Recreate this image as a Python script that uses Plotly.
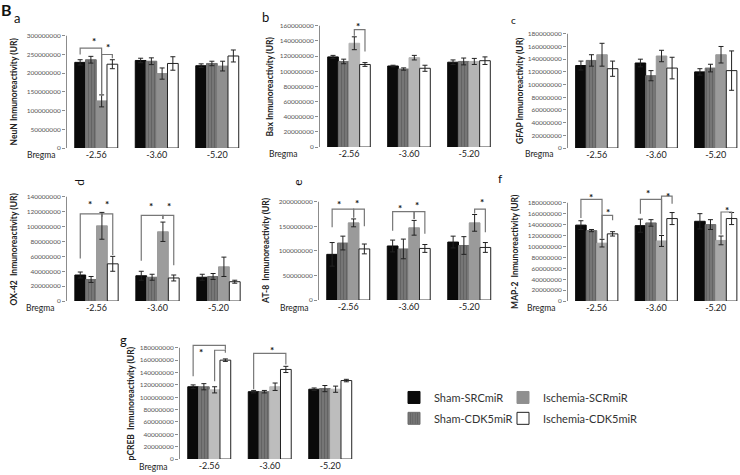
import plotly.graph_objects as go

W, H = 740, 475
UNIT = 1e6  # values below are in millions of UR

categories = ["-2.56", "-3.60", "-5.20"]
series_names = ["Sham-SRCmiR", "Sham-CDK5miR", "Ischemia-SCRmiR", "Ischemia-CDK5miR"]

# ---- a: NeuN ----
neun_mean = [[229, 234, 220], [236, 232, 226], [126, 199, 219], [224, 226, 246]]
neun_err = [[7, 6, 5], [9, 9, 6], [16, 15, 13], [12, 18, 16]]
neun_brackets = [(0, 0, 2, 267, 250, 140), (0, 2, 3, 250, 140, 240)]
neun_stars = [(0, 1.3, 287), (0, 2.6, 269)]

# ---- b: Bax ----
bax_mean = [[119, 107, 112], [113, 103, 113], [137, 118, 113], [109, 104, 114]]
bax_err = [[2, 1, 3], [3, 1.5, 4.5], [8.5, 3, 4], [2.5, 4, 5]]
bax_brackets = [(0, 2, 3, 155, 147, 126)]
bax_stars = [(0, 2.3, 160)]

# ---- c: GFAP ----
gfap_mean = [[130, 134, 120], [138, 114, 126], [147, 145, 147], [125, 126, 122]]
gfap_err = [[7, 6, 5], [9, 8, 6], [18, 9, 13], [12, 17, 31]]
gfap_brackets = []
gfap_stars = []

# ---- d: OX-42 ----
ox42_mean = [[35, 34, 32], [29, 32, 33], [101, 93, 46], [50, 31, 26]]
ox42_err = [[4, 6, 4], [4, 4, 4], [18, 13, 13], [10, 4, 2]]
ox42_brackets = [(0, 0, 2, 117, 57, 113), (0, 2, 3, 117, 113, 62),
                 (1, 0, 2, 115, 54, 110), (1, 2, 3, 115, 110, 48)]
ox42_stars = [(0, 0.9, 130), (0, 2.5, 130), (1, 0.9, 127), (1, 2.6, 127)]

# ---- e: AT-8 ----
at8_mean = [[93, 110, 118], [116, 104, 111], [157, 147, 157], [104, 105, 107]]
at8_err = [[24, 12, 12], [14, 20, 18], [8, 15, 17], [10, 8, 10]]
at8_brackets = [(0, 0, 2, 185, 148, 168), (0, 2, 3, 185, 168, 150),
                (1, 0, 2, 180, 141, 165), (1, 2, 3, 180, 165, 135),
                (2, 2, 3, 185, 176, 138)]
at8_stars = [(0, 0.6, 196), (0, 2.3, 197), (1, 0.7, 187), (1, 2.3, 194), (2, 2.7, 199)]

# ---- f: MAP-2 ----
map2_mean = [[139, 138, 146], [129, 143, 140], [106, 110, 111], [123, 151, 151]]
map2_err = [[8, 12, 14], [2, 6, 9], [7, 10, 8], [4, 11, 11]]
map2_brackets = [(0, 0, 2, 186, 152, 114), (0, 2, 3, 157, 114, 148),
                 (1, 0, 2, 186, 160, 122), (1, 2, 3, 192, 122, 178),
                 (2, 2, 3, 163, 122, 153)]
map2_stars = [(0, 1.0, 191), (0, 2.6, 163), (1, 0.7, 198), (1, 2.6, 193), (2, 2.6, 167)]

# ---- g: pCREB ----
pcreb_mean = [[117, 109, 113], [117, 109, 114], [112, 117, 113], [160, 145, 127]]
pcreb_err = [[3, 2, 2], [5, 2, 5], [5, 6, 5], [2, 5, 2]]
pcreb_brackets = [(0, 0, 3, 184, 134, 177), (0, 2, 3, 176, 126, 172), (1, 0, 3, 171, 113, 153)]
pcreb_stars = [(0, 0.7, 174), (1, 1.7, 176)]

panels = [
    ("a", "NeuN Inmunoreactivity (UR)", neun_mean, neun_err, 300, 50, neun_brackets, neun_stars),
    ("b", "Bax Inmunoreactivity (UR)", bax_mean, bax_err, 160, 20, bax_brackets, bax_stars),
    ("c", "GFAP Inmunoreactivity (UR)", gfap_mean, gfap_err, 180, 20, gfap_brackets, gfap_stars),
    ("d", "OX-42\u00a0 Inmunoreactivity (UR)", ox42_mean, ox42_err, 140, 20, ox42_brackets, ox42_stars),
    ("e", "AT-8\u00a0 Inmunoreactivity (UR)", at8_mean, at8_err, 200, 50, at8_brackets, at8_stars),
    ("f", "MAP-2\u00a0 Inmunoreactivity (UR)", map2_mean, map2_err, 180, 20, map2_brackets, map2_stars),
    ("g", "pCREB\u00a0 Inmunoreactivity (UR)", pcreb_mean, pcreb_err, 180, 20, pcreb_brackets, pcreb_stars),
]

# ---- layout geometry (pixels) ----
geom = {
    "a": dict(ax=66, pitch=60.5, p0=149, pmax=36, tx=13.5, breg=(41, 156), let=(17, 18, 13, 0), g3="#8f8f8f"),
    "b": dict(ax=319, pitch=60, p0=148, pmax=26, tx=270, breg=(283, 155), let=(265, 17, 13, 0), g3="#b5b5b5"),
    "c": dict(ax=567, pitch=59.5, p0=149, pmax=34, tx=520, breg=(539, 155), let=(513, 20, 10, 0), g3="#9a9a9a"),
    "d": dict(ax=66, pitch=61, p0=303, pmax=198, tx=13.5, breg=(40, 310), let=(80, 184, 12, -90), g3="#9c9c9c"),
    "e": dict(ax=318, pitch=60.5, p0=302, pmax=203, tx=266, breg=(294, 310), let=(298, 184, 12, -90), g3="#9a9a9a"),
    "f": dict(ax=567, pitch=59.5, p0=303, pmax=204, tx=515, breg=(541, 310), let=(500, 180, 12, 0), g3="#a8a8a8"),
    "g": dict(ax=179, pitch=60.5, p0=462, pmax=350, tx=131, breg=(153, 470), let=(123, 342, 13, 0), g3="#bdbdbd"),
}
EXT = 1.2
BARGAP = 0.29
FONT = "Lato, 'Open Sans', sans-serif"
legend_ids = ["legend", "legend2", "legend3", "legend4"]


def bar_center(c, pos):
    gw = 1 - BARGAP
    return c - gw / 2 + (pos + 0.5) * gw / 4


fig = go.Figure()
shapes = []
annotations = []
layout = {}

for k, (key, title, mean, err, ymax, step, brackets, stars) in enumerate(panels, start=1):
    gm = geom[key]
    xa = "x" if k == 1 else f"x{k}"
    ya = "y" if k == 1 else f"y{k}"
    xname = "xaxis" if k == 1 else f"xaxis{k}"
    yname = "yaxis" if k == 1 else f"yaxis{k}"

    x_end_px = min(gm["ax"] + 3 * gm["pitch"], W)
    xr_end = -0.5 + (x_end_px - gm["ax"]) / gm["pitch"]
    p_top = gm["p0"] - (gm["p0"] - gm["pmax"]) * EXT

    layout[xname] = dict(domain=[gm["ax"] / W, x_end_px / W], range=[-0.5, xr_end],
                         anchor=ya, tickvals=[0, 1, 2], ticktext=categories,
                         showline=False, showgrid=False, zeroline=False, ticks="",
                         tickfont=dict(size=9, color="#222"), fixedrange=True)
    tickvals = [v * UNIT for v in range(0, ymax + 1, step)]
    layout[yname] = dict(domain=[1 - gm["p0"] / H, 1 - p_top / H], range=[0, ymax * EXT * UNIT],
                         anchor=xa, tickvals=tickvals, ticktext=[str(int(v)) for v in tickvals],
                         showline=False, showgrid=False, zeroline=False, ticks="outside",
                         ticklen=3, tickcolor="#8c8c8c", tickwidth=1,
                         tickfont=dict(size=6.5, color="#555"), fixedrange=True)

    colors = ["#0a0a0a", "#6e6e6e", gm["g3"], "#ffffff"]
    for i in range(4):
        marker = dict(color=colors[i], line=dict(color="#222" if i == 3 else colors[i], width=1))
        if i == 1:
            marker["pattern"] = dict(shape="|", fgcolor="#505050", bgcolor="#767676", size=3, solidity=0.35)
        fig.add_trace(go.Bar(
            x=[0, 1, 2], y=[v * UNIT for v in mean[i]], name=series_names[i],
            marker=marker,
            error_y=dict(type="data", array=[e * UNIT for e in err[i]], color="#222", thickness=1, width=2.5),
            xaxis=xa, yaxis=ya, legend=legend_ids[i], showlegend=(k == 1),
            hoverinfo="skip",
        ))

    # y axis line up to the top tick
    shapes.append(dict(type="line", xref=xa, yref=ya, x0=-0.5, x1=-0.5, y0=0, y1=ymax * UNIT,
                       line=dict(color="#8c8c8c", width=2)))

    for (c, i, j, lev, le, re) in brackets:
        xi, xj = bar_center(c, i), bar_center(c, j)
        path = f"M {xi},{le * UNIT} L {xi},{lev * UNIT} L {xj},{lev * UNIT} L {xj},{re * UNIT}"
        shapes.append(dict(type="path", xref=xa, yref=ya, path=path,
                           line=dict(color="#777", width=1.2)))
    for (c, pos, yv) in stars:
        annotations.append(dict(xref=xa, yref=ya, x=bar_center(c, pos), y=yv * UNIT, text="<b>*</b>",
                                showarrow=False, font=dict(size=10, color="#111"),
                                xanchor="center", yanchor="middle"))

    # y-axis title
    annotations.append(dict(xref="paper", yref="paper", x=gm["tx"] / W,
                            y=1 - ((gm["p0"] + gm["pmax"]) / 2) / H, text=f"<b>{title}</b>",
                            textangle=-90, showarrow=False, font=dict(size=8.5, color="#222"),
                            xanchor="center", yanchor="middle"))
    # Bregma label
    annotations.append(dict(xref="paper", yref="paper", x=gm["breg"][0] / W, y=1 - gm["breg"][1] / H,
                            text="Bregma", showarrow=False, font=dict(size=8.5, color="#222"),
                            xanchor="center", yanchor="middle"))
    # panel letter
    lx, ly, ls, la = gm["let"]
    annotations.append(dict(xref="paper", yref="paper", x=lx / W, y=1 - ly / H, text=key,
                            showarrow=False, textangle=la, font=dict(size=ls, color="#111"),
                            xanchor="center", yanchor="middle"))

annotations.append(dict(xref="paper", yref="paper", x=0, y=1, text="<b>B</b>",
                        showarrow=False, font=dict(size=16, color="#111"),
                        xanchor="left", yanchor="top", xshift=-1, yshift=2))

# legends (2 x 2)
leg_pos = [(394, 400), (394, 421), (503, 400), (503, 421)]
for lid, (lx, ly) in zip(legend_ids, leg_pos):
    layout[lid] = dict(x=lx / W, y=1 - ly / H, xanchor="left", yanchor="middle",
                       bgcolor="rgba(0,0,0,0)", borderwidth=0,
                       font=dict(size=11, color="#333", family=FONT))

fig.update_layout(
    width=W, height=H, margin=dict(l=0, r=0, t=0, b=0),
    paper_bgcolor="white", plot_bgcolor="white",
    barmode="group", bargap=BARGAP, bargroupgap=0,
    font=dict(family=FONT, color="#222"),
    shapes=shapes, annotations=annotations, hovermode=False,
    **layout,
)

fig.write_html("out.html", config={"displayModeBar": False},
               post_script="document.body.style.margin='0';document.body.style.overflow='hidden';")
